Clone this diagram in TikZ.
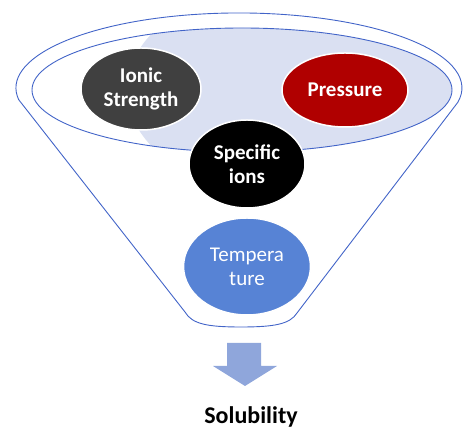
\documentclass[tikz,border=0pt]{standalone}
\usepackage{fontspec}
\setmainfont{Carlito}
\usetikzlibrary{shapes.geometric}
\definecolor{lineblue}{RGB}{66,100,200}
\definecolor{lav}{RGB}{218,224,242}
\definecolor{darkgray}{RGB}{64,64,64}
\definecolor{deepred}{RGB}{176,0,0}
\definecolor{tempblue}{RGB}{87,131,213}
\definecolor{arrowblue}{RGB}{143,166,219}
\tikzset{
  factor/.style={ellipse, draw=white, line width=1.5pt, inner sep=0pt, align=center, text=white,
    font=\fontsize{21}{24}\selectfont\bfseries},
  funnelline/.style={draw=lineblue, line width=0.9pt}
}
\begin{document}
\begin{tikzpicture}[x=1pt,y=1pt]
\useasboundingbox (0,0) rectangle (463,430);
% funnel outline
\path[funnelline] (18.7,330.3) arc[start angle=189, end angle=-11, x radius=223, y radius=75]
  -- (297,117) .. controls (290,106) and (275,103) .. (241,103)
  .. controls (207,103) and (192,106) .. (185,118) -- cycle;
% lavender fill inside the inner ellipse
\begin{scope}
  \clip (242,340) ellipse [x radius=210, y radius=62];
  \fill[lav] (302,340) ellipse [x radius=175, y radius=110];
\end{scope}
\draw[funnelline] (242,340) ellipse [x radius=210, y radius=62];
% factor nodes
\node[factor, fill=darkgray, minimum width=120pt, minimum height=82pt] (ionic) at (141,341) {Ionic\\Strength};
\node[factor, fill=deepred, minimum width=126pt, minimum height=74pt] (pressure) at (345,340) {Pressure};
\node[factor, fill=black, minimum width=116pt, minimum height=88pt] (specific) at (247,266) {Specific\\ions};
\node[factor, fill=tempblue, minimum width=127pt, minimum height=97pt, font=\fontsize{21}{24}\selectfont] (temp) at (247,163.5) {Tempera\\ture};
% arrow
\fill[arrowblue] (227,87) -- (261,87) -- (261,64) -- (277,64) -- (245,44) -- (213,64) -- (227,64) -- cycle;
% result
\node[anchor=base, inner sep=0pt, font=\fontsize{24}{28}\selectfont\bfseries] (sol) at (251,6) {Solubility};
\end{tikzpicture}
\end{document}
